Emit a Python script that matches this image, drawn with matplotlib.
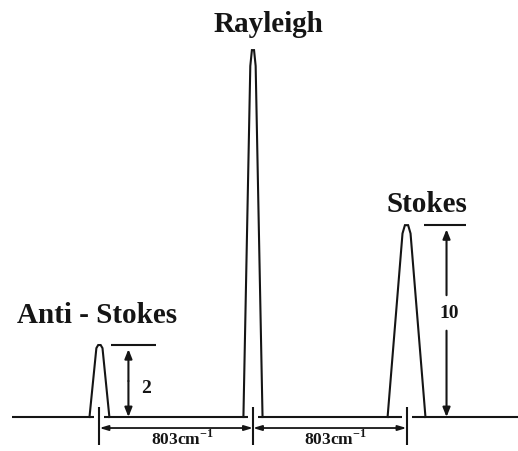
import numpy as np
import matplotlib
matplotlib.use("Agg")
import matplotlib.pyplot as plt
from matplotlib.transforms import blended_transform_factory

# Raman spectrum sketch: shift of each line (cm^-1) and its relative intensity
line_names = ["Anti - Stokes", "Rayleigh", "Stokes"]
line_shift = [-803, 0, 803]
line_height = [2, 29, 10]
# which lines get an intensity marker
marked = [0, 2]

W_PX, H_PX = 518, 451
XMIN, XMAX = -1323, 1386
GAMMA = 0.609            # compressive intensity axis
T_BOT, T_TOP = -0.720, 8.835
INK = "#151515"

plt.rcParams["font.family"] = ["Liberation Serif", "DejaVu Serif"]
plt.rcParams["font.weight"] = "bold"
plt.rcParams["mathtext.fontset"] = "custom"
plt.rcParams["mathtext.rm"] = "Liberation Serif"
plt.rcParams["mathtext.bf"] = "Liberation Serif:bold"


def fwd(v):
    v = np.asarray(v, dtype=float)
    return np.sign(v) * np.abs(v) ** GAMMA


def inv(t):
    t = np.asarray(t, dtype=float)
    return np.sign(t) * np.abs(t) ** (1.0 / GAMMA)


fig = plt.figure(figsize=(W_PX / 100, H_PX / 100), dpi=100)
ax = fig.add_axes([0, 0, 1, 1])
ax.set_yscale("function", functions=(fwd, inv))
ax.set_xlim(XMIN, XMAX)
ax.set_ylim(float(inv(T_BOT)), float(inv(T_TOP)))
ax.axis("off")

cm_per_px = (XMAX - XMIN) / W_PX
base_frac = -T_BOT / (T_TOP - T_BOT)
below = blended_transform_factory(ax.transData, ax.transAxes)


def px_below(p):
    # axes fraction p pixels under the baseline
    return base_frac - p / H_PX


# peak outlines
half_base = [52, 50, 99]
half_top = [16, 14, 21]
for x, h, hb, ht in zip(line_shift, line_height, half_base, half_top):
    xs = [x - hb, x - ht, x - 0.4 * ht, x + 0.4 * ht, x + ht, x + hb]
    ys = [0, 0.93 * h, h, h, 0.93 * h, 0]
    ax.plot(xs, ys, color=INK, lw=1.5, solid_joinstyle="miter")

# baseline broken at each line position
gap = 5 * cm_per_px
starts = [XMIN + 12 * cm_per_px] + [x + gap for x in line_shift]
ends = [x - gap for x in line_shift] + [XMAX]
ax.hlines([0] * len(starts), starts, ends, color=INK, lw=1.5)

# position ticks
ax.vlines(line_shift, px_below(28), px_below(-10), color=INK, lw=1.5,
          transform=below)

# shift dimension lines
dim_y = px_below(11)
shift_label = f"{line_shift[2]}cm$^{{\\mathbf{{-1}}}}$"
for a, b in zip(line_shift[:-1], line_shift[1:]):
    ax.annotate("", xy=(a, dim_y), xytext=(b, dim_y), xycoords=below,
                arrowprops=dict(arrowstyle="<|-|>,head_length=0.5,head_width=0.15",
                                color=INK, lw=1.3, shrinkA=0, shrinkB=0))
    ax.text((a + b) / 2 + 6 * cm_per_px, px_below(22), shift_label,
            transform=below, ha="center", va="center", fontsize=12.5,
            color=INK)

# line names
name_offset = [(-2, 22), (16, 18), (20, 13)]
for x, h, name, off in zip(line_shift, line_height, line_names, name_offset):
    ax.annotate(name, xy=(x, h), xytext=off, textcoords="offset pixels",
                ha="center", va="baseline", fontsize=21, color=INK)

# intensity markers
bar_span = {0: (12, 57), 2: (17, 59)}
arrow_dx = {0: 29, 2: 40}
label_dx = {0: 47, 2: 43}
label_frac = {0: 0.40, 2: 0.54}
arrow_gap = {2: (0.45, 0.635)}
head = "-|>,head_length=0.55,head_width=0.22"
for i in marked:
    x, h = line_shift[i], line_height[i]
    b0, b1 = bar_span[i]
    ax.hlines(h, x + b0 * cm_per_px, x + b1 * cm_per_px, color=INK, lw=1.5)
    ax_x = x + arrow_dx[i] * cm_per_px
    t_h = float(fwd(h))
    if i in arrow_gap:
        g0, g1 = arrow_gap[i]
        segs = [(float(inv(g1 * t_h)), h), (float(inv(g0 * t_h)), 0)]
    else:
        segs = [(float(inv(0.5 * t_h)), h), (float(inv(0.5 * t_h)), 0)]
    for y_from, y_to in segs:
        ax.annotate("", xy=(ax_x, y_to), xytext=(ax_x, y_from),
                    arrowprops=dict(arrowstyle=head, color=INK, lw=1.5,
                                    shrinkA=0, shrinkB=3 if y_to else 0))
    ax.text(x + label_dx[i] * cm_per_px, float(inv(label_frac[i] * t_h)),
            str(h), ha="center", va="center", fontsize=14, color=INK)

fig.savefig("out.png", dpi=100, facecolor="white")
